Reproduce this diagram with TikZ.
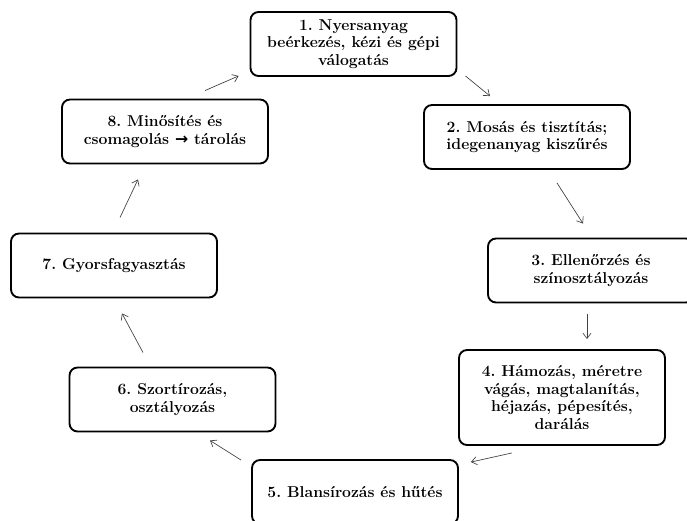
\documentclass[tikz,border=0pt]{standalone}
\usepackage{fontspec}
\newfontfamily\arrowfont{DejaVu Sans}
\usetikzlibrary{arrows.meta}

\begin{document}
\begin{tikzpicture}[x=0.75pt,y=-0.75pt,>={Straight Barb[length=4pt,width=6pt]},
  stepbox/.style={draw, line width=1.4pt, rounded corners=6pt, fill=white,
    align=center, minimum width=154.5pt, minimum height=48pt, inner sep=2pt,
    font=\fontsize{11.8}{13.3}\selectfont\bfseries\frenchspacing},
  flow/.style={->, draw=black!75, line width=0.5pt}]
  \useasboundingbox (0,0) rectangle (687,521);
  \clip (0,0) rectangle (687,521);

  % the eight steps, clockwise from the top
  \node[stepbox] (b1) at (353.5,44) {1. Nyersanyag\\beérkezés, kézi és gépi\\válogatás};
  \node[stepbox] (b2) at (527,137) {2. Mosás és tisztítás;\\idegenanyag kiszűrés};
  \node[stepbox] (b3) at (591,270.5) {3. Ellenőrzés és\\színosztályozás};
  \node[stepbox, minimum height=71.25pt] (b4) at (562,397.5)
    {4. Hámozás, méretre\\vágás, magtalanítás,\\héjazás, pépesítés,\\darálás};
  \node[stepbox] (b5) at (355,492) {5. Blansírozás és hűtés};
  \node[stepbox] (b6) at (172.5,399.5) {6. Szortírozás,\\osztályozás};
  \node[stepbox] (b7) at (114,265.5) {7. Gyorsfagyasztás};
  \node[stepbox] (b8) at (165,131.5) {8. Minősítés és\\csomagolás {\arrowfont\bfseries →} tárolás};

  % arrows between the boxes
  \draw[flow] ([shift={(8,-1)}]b1.south east) -- ([shift={(-37,-8)}]b2.north);
  \draw[flow] ([shift={(30,13)}]b2.south) -- ([shift={(-8,-14)}]b3.north);
  \draw[flow] ([shift={(-4,11)}]b3.south) -- ([shift={(25,-10)}]b4.north);
  \draw[flow] ([shift={(-50,7)}]b4.south) -- ([shift={(12,3)}]b5.north east);
  \draw[flow] ([shift={(-10,1)}]b5.north west) -- ([shift={(37.5,8)}]b6.south);
  \draw[flow] ([shift={(-29.5,-14)}]b6.north) -- ([shift={(8,15)}]b7.south);
  \draw[flow] ([shift={(6,-15)}]b7.north) -- ([shift={(-27,15)}]b8.south);
  \draw[flow] ([shift={(40,-8)}]b8.north) -- ([shift={(-11,-1)}]b1.south west);
\end{tikzpicture}
\end{document}
